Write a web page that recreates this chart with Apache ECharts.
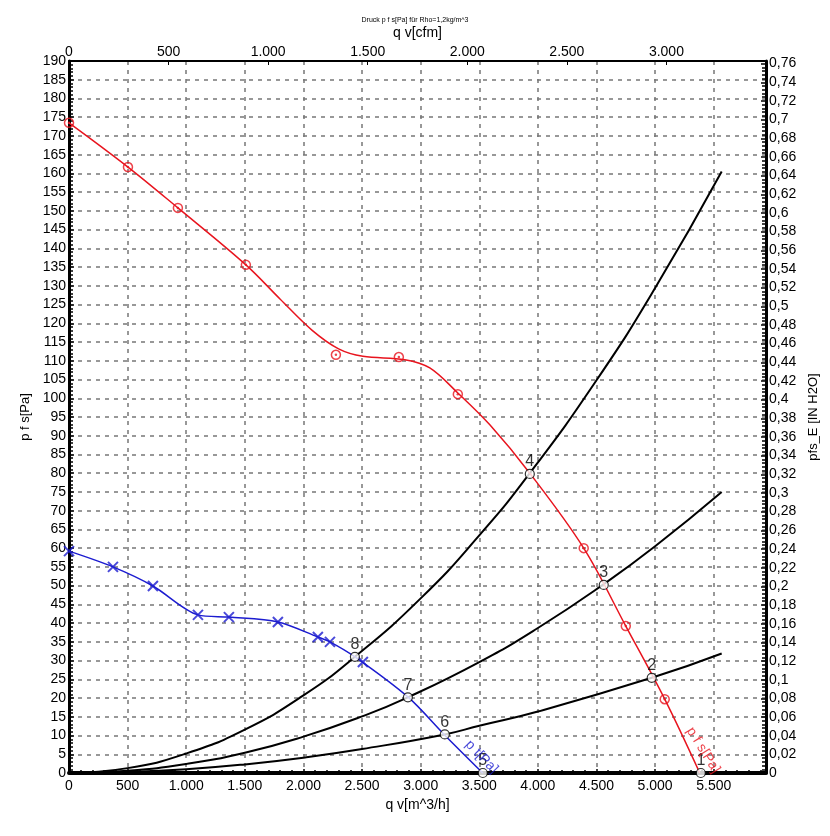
<!DOCTYPE html>
<html>
<head>
<meta charset="utf-8">
<script src="https://cdn.jsdelivr.net/npm/echarts@6/dist/echarts.min.js"></script>
<style>html,body{margin:0;padding:0;background:#fff}#c{width:830px;height:836px}</style>
</head>
<body>
<div id="c"></div>
<script>
// ---- data (q v in m^3/h, p in Pa) ----
var xTickValues = [0,500,1000,1500,2000,2500,3000,3500,4000,4500,5000,5500];
var cfmTickValues = [0,500,1000,1500,2000,2500,3000];
var pfsCurve = [[0,173.5],[503,161.7],[929,150.8],[1509,135.6],[1800,126.5],[2072,118.2],[2300,113.2],[2507,111.2],[2865,110.3],[3078,108.1],[3317,101.4],[3590,92.9],[3931,80],[4391,60],[4750,39.2],[5082,19.7],[5381,0]];
var pfsMarkers = [[0,173.5],[503,161.7],[929,150.8],[1509,135.6],[2277,111.6],[2814,111.0],[3317,101.1],[4391,60],[4750,39.2],[5082,19.7]];
var ptCurve = [[0,59.2],[375,55.0],[716,49.9],[1100,42.2],[1364,41.6],[1782,40.3],[2123,36.3],[2226,35.0],[2439,31.0],[2891,20.3],[3206,10.1],[3530,0]];
var ptMarkers = [[0,59.2],[375,55.0],[716,49.9],[1100,42.2],[1364,41.6],[1782,40.3],[2123,36.3],[2226,35.0],[2507,29.6]];
var systemA = [[0,0],[500,1.3],[1000,5.2],[1500,11.6],[2000,20.7],[2439,31.0],[3000,46.6],[3500,63.4],[3931,80],[4500,104.8],[5000,129.4],[5568,160.5]];
var systemB = [[0,0],[500,0.6],[1000,2.4],[1500,5.4],[2000,9.7],[2500,15.1],[2891,20.2],[3500,29.6],[4000,38.7],[4562,50.4],[5000,60.5],[5568,75.0]];
var systemC = [[0,0],[500,0.26],[1000,1.0],[1500,2.3],[2000,4.1],[2500,6.4],[3206,10.3],[3500,12.6],[4000,16.4],[4971,25.4],[5568,31.9]];
var opPoints = [[5390,0,'1'],[4971,25.4,'2'],[4562,50.2,'3'],[3931,79.8,'4'],[3530,0,'5'],[3206,10.3,'6'],[2891,20.2,'7'],[2439,31.0,'8']];
var xMax = 5946, cfmMax = 3500, yMax = 190, inH2OMax = 190/249.089;

var FONT = '"Liberation Sans", Arial, sans-serif';
function dotThousands(v){ var s = String(Math.round(v)); return s.replace(/\B(?=(\d{3})+(?!\d))/g,'.'); }
function commaDec(v){ var s = (Math.round(v*100)/100).toString(); return s.replace('.',','); }

var chart = echarts.init(document.getElementById('c'), null, {renderer:'canvas'});
var labelStyle = {color:'#000', fontFamily:FONT, fontSize:14};
var RED = '#e8141e', BLUE = '#1c1cd0';

chart.setOption({
  animation:false,
  backgroundColor:'#fff',
  title:{text:'Druck p f s[Pa] für Rho=1,2kg/m^3', left:'center', top:12, textStyle:{fontFamily:FONT, fontSize:7, fontWeight:'normal', color:'#000'}},
  grid:{left:69, right:64, top:61, bottom:63, containLabel:false},
  xAxis:[{
    type:'value', min:0, max:xMax, interval:500, position:'bottom',
    name:'q v[m^3/h]', nameLocation:'middle', nameGap:21, nameTextStyle:{fontFamily:FONT, fontSize:14, color:'#000'},
    axisLine:{show:true, onZero:false, lineStyle:{color:'#000', width:4}},
    axisTick:{show:true, inside:true, length:4, lineStyle:{color:'#000', width:1.5}},
    minorTick:{show:true, splitNumber:5, length:3, lineStyle:{color:'#000', width:1.5}},
    axisLabel:Object.assign({margin:6, showMaxLabel:false, formatter:function(v){return dotThousands(v);}}, labelStyle),
    splitLine:{show:true, lineStyle:{color:'#777', type:[4,5], width:1.5}}
  },{
    type:'value', min:0, max:cfmMax, interval:500, position:'top',
    name:'q v[cfm]', nameLocation:'middle', nameGap:17, nameTextStyle:{fontFamily:FONT, fontSize:14, color:'#000'},
    axisLine:{show:true, onZero:false, lineStyle:{color:'#000', width:2}},
    axisTick:{show:true, inside:true, length:4, lineStyle:{color:'#000', width:1}},
    axisLabel:Object.assign({margin:2, showMaxLabel:false, formatter:function(v){return dotThousands(v);}}, labelStyle),
    splitLine:{show:false}
  }],
  yAxis:[{
    type:'value', min:0, max:yMax, interval:5, position:'left',
    name:'p f s[Pa]', nameLocation:'middle', nameGap:21, nameRotate:90, nameTextStyle:{fontFamily:FONT, fontSize:13, color:'#000'},
    axisLine:{show:true, onZero:false, lineStyle:{color:'#000', width:3}},
    axisTick:{show:true, inside:true, length:5, lineStyle:{color:'#000', width:1.5}},
    minorTick:{show:true, splitNumber:5, length:4, lineStyle:{color:'#000', width:1.5}},
    axisLabel:Object.assign({margin:3}, labelStyle),
    splitLine:{show:true, lineStyle:{color:'#777', type:[4,5], width:1.5}}
  },{
    type:'value', min:0, max:inH2OMax, interval:0.02, position:'right',
    name:'pfs_E [IN H2O]', nameLocation:'middle', nameGap:35, nameRotate:90, nameTextStyle:{fontFamily:FONT, fontSize:13, color:'#000'},
    axisLine:{show:true, onZero:false, lineStyle:{color:'#000', width:3}},
    axisTick:{show:true, inside:true, length:5, lineStyle:{color:'#000', width:1.5}},
    minorTick:{show:true, splitNumber:5, length:4, lineStyle:{color:'#000', width:1.5}},
    axisLabel:Object.assign({margin:3, showMaxLabel:false, formatter:function(v){return commaDec(v);}}, labelStyle),
    splitLine:{show:false}
  }],
  series:[
    {type:'line', data:systemA, smooth:true, showSymbol:false, lineStyle:{color:'#000', width:2}, z:3},
    {type:'line', data:systemB, smooth:true, showSymbol:false, lineStyle:{color:'#000', width:2}, z:3},
    {type:'line', data:systemC, smooth:true, showSymbol:false, lineStyle:{color:'#000', width:2}, z:3},
    {type:'line', data:pfsCurve, smooth:0.35, showSymbol:false, lineStyle:{color:RED, width:1.5}, z:4},
    {type:'line', data:ptCurve, smooth:0.3, showSymbol:false, lineStyle:{color:BLUE, width:1.5}, z:4},
    {type:'scatter', data:pfsMarkers, symbol:'circle', symbolSize:9, clip:false, itemStyle:{color:'rgba(255,255,255,0)', borderColor:RED, borderWidth:1.5}, z:5},
    {type:'scatter', data:pfsMarkers, symbol:'circle', symbolSize:2.5, clip:false, itemStyle:{color:RED}, z:6},
    {type:'scatter', data:ptMarkers, symbol:'path://M0,0L10,10M10,0L0,10', symbolSize:10, clip:false, itemStyle:{color:'none', borderColor:BLUE, borderWidth:2}, z:5},
    {type:'scatter', data:opPoints.map(function(p){return {value:[p[0],p[1]], name:p[2]};}), symbol:'circle', symbolSize:9, clip:false,
      itemStyle:{color:'#fff', borderColor:'#000', borderWidth:1.2},
      label:{show:true, position:'top', distance:-1, formatter:'{b}', color:'#000', fontFamily:FONT, fontSize:16}, z:7},
    {type:'scatter', data:[{value:[5410,6.1], name:'p f s[Pa]'}], symbolSize:0, clip:false,
      label:{show:true, position:'inside', formatter:'{b}', rotate:-58, color:RED, fontFamily:FONT, fontSize:14}, z:8},
    {type:'scatter', data:[{value:[3520,4.3], name:'p t[Pa]'}], symbolSize:0, clip:false,
      label:{show:true, position:'inside', formatter:'{b}', rotate:-46, color:BLUE, fontFamily:FONT, fontSize:14}, z:8}
  ]
});
</script>
</body>
</html>
